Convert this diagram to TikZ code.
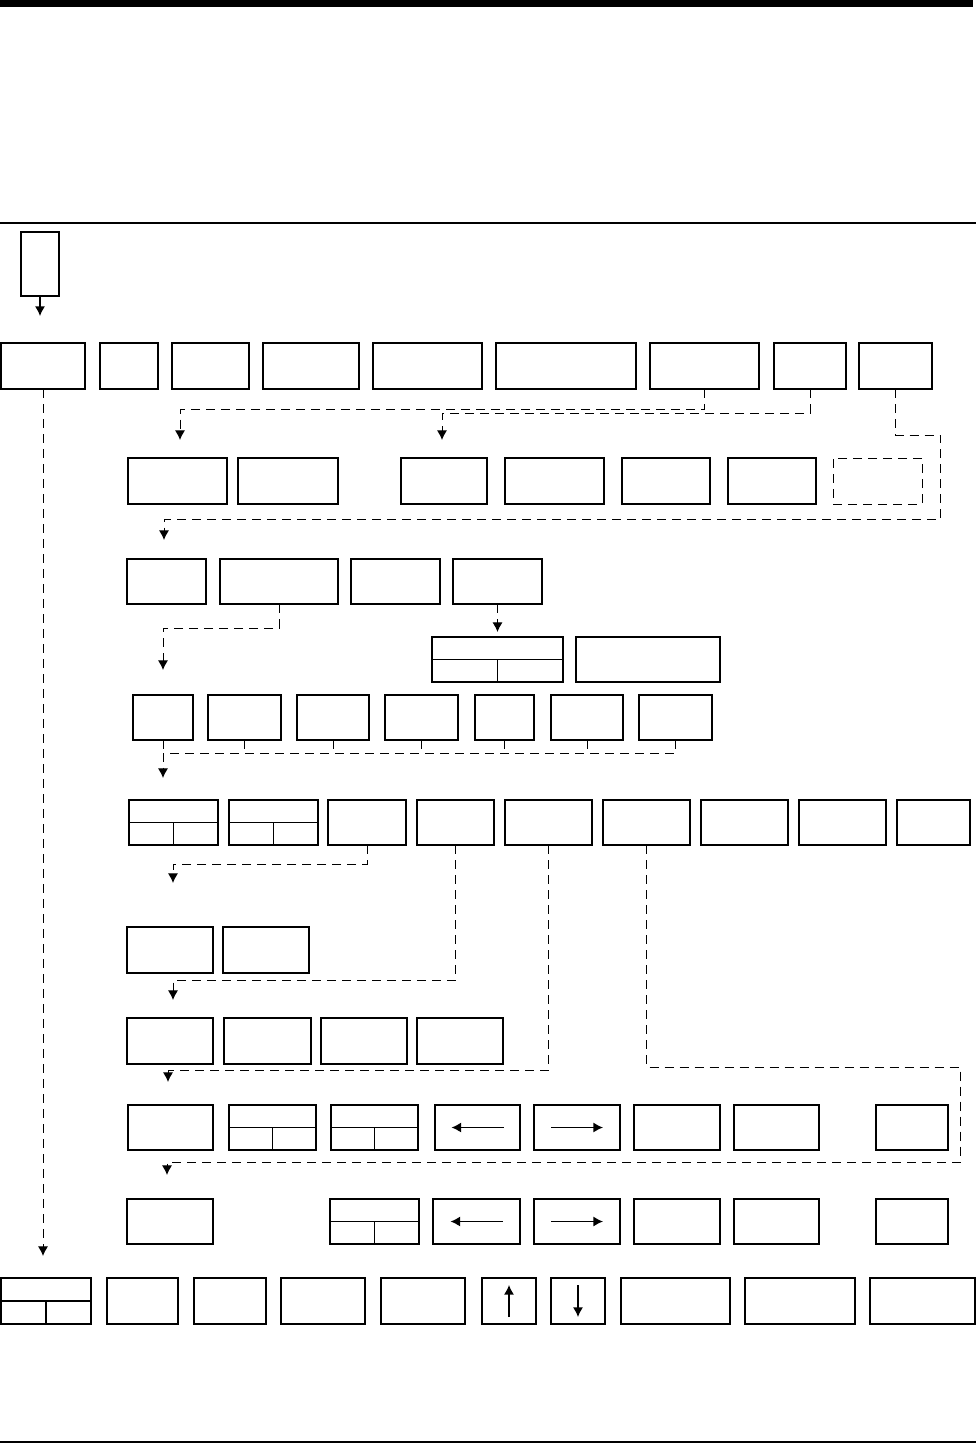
\documentclass[tikz,border=0pt]{standalone}
\usetikzlibrary{arrows.meta}
\usetikzlibrary{calc}

\begin{document}
\begin{tikzpicture}[x=.5pt, y=-.5pt, >={Latex[length=4.8pt,width=5pt]},
  box/.style={draw, rectangle, line width=.65pt, inner sep=0, outer sep=0},
  dashline/.style={line width=.5pt, dash pattern=on 4.5pt off 3pt}]
\def\bx#1#2#3#4#5{\node[box, minimum width={(#4-#2)*.5pt}, minimum height={(#5-#3)*.5pt}] (#1) at ({(#2+#4)/2},{(#3+#5)/2}) {};}
\useasboundingbox (0,0) rectangle (976,1445);
\fill[black] (0,0) rectangle (973,7.5);
\draw[line width=1pt] (0,223) -- (976,223);
\draw[line width=1.2pt] (0,1442) -- (976,1442);
\bx{start}{21}{232}{59}{296}
\foreach \n/\a/\b in {r1a/1/85, r1b/100/158, r1c/172/249, r1d/263/359, r1e/373/482, r1f/496/636, r1g/650/759, r1h/774/846, r1i/859/932}
 {\bx{\n}{\a}{343}{\b}{389}}
\foreach \n/\a/\b in {r2a/128/227, r2b/238/338, r2c/401/487, r2d/505/604, r2e/622/710, r2f/728/816}
 {\bx{\n}{\a}{458}{\b}{504}}
\node[box, dashline, minimum width=44.5pt, minimum height=23pt] (r2g) at (877.5,481) {};
\foreach \n/\a/\b in {r3a/127/206, r3b/220/338, r3c/351/440, r3d/453/542}
 {\bx{\n}{\a}{559}{\b}{604}}
\bx{sp3}{432}{637}{563}{682}
\bx{r3e}{576}{637}{720}{682}
\foreach \n/\a/\b in {r4a/133/193, r4b/208/281, r4c/297/369, r4d/385/458, r4e/475/534, r4f/551/623, r4g/639/712}
 {\bx{\n}{\a}{695}{\b}{740}}
\foreach \n/\a/\b in {s5a/129/218, s5b/229/318, r5c/328/406, r5d/417/494, r5e/505/592, r5f/603/690, r5g/701/788, r5h/799/886, r5i/897/970}
 {\bx{\n}{\a}{800}{\b}{845}}
\foreach \n/\a/\b in {r6a/127/213, r6b/223/309}
 {\bx{\n}{\a}{927}{\b}{973}}
\foreach \n/\a/\b in {r7a/127/213, r7b/224/311, r7c/321/407, r7d/417/503}
 {\bx{\n}{\a}{1018}{\b}{1064}}
\foreach \n/\a/\b in {r8a/128/213, s8b/229/316, s8c/331/418, r8d/435/520, r8e/534/620, r8f/634/720, r8g/734/819, r8h/876/948}
 {\bx{\n}{\a}{1105}{\b}{1150}}
\foreach \n/\a/\b in {r9a/127/213, s9b/330/419, r9c/433/520, r9d/534/620, r9e/634/720, r9f/734/819, r9g/876/948}
 {\bx{\n}{\a}{1199}{\b}{1244}}
\foreach \n/\a/\b in {s10a/1/91, r10b/107/178, r10c/194/266, r10d/281/365, r10e/381/465, r10f/482/536, r10g/551/605, r10h/621/730, r10i/745/855, r10j/870/975}
 {\bx{\n}{\a}{1278}{\b}{1324}}
% split boxes
\foreach \n in {sp3, s5a, s5b, s8b, s8c, s9b, s10a} {
 \draw[line width=.65pt] (\n.west) -- (\n.east);
 \draw[line width=.65pt] (\n.center) -- (\n.south);
}
% arrows inside boxes
\foreach \n in {r8d, r9c}
 \draw[->, line width=.65pt] ([xshift=13pt]\n.center) -- ([xshift=-13pt]\n.center);
\foreach \n in {r8e, r9d}
 \draw[->, line width=.65pt] ([xshift=-13pt]\n.center) -- ([xshift=13pt]\n.center);
\draw[->, line width=.65pt] ([yshift=-8pt]r10f.center) -- ([yshift=8pt]r10f.center);
\draw[->, line width=.65pt] ([yshift=8pt]r10g.center) -- ([yshift=-8pt]r10g.center);
% arrow ends
\coordinate (t1a) at (40,316);
\coordinate (t2a) at (180,440);
\coordinate (t2c) at (442,440);
\coordinate (t3a) at (164,540);
\coordinate (t4a) at (163,670);
\coordinate (j4) at (163,753);
\coordinate (t5a) at (163,778);
\coordinate (t6a) at (173,883);
\coordinate (t7a) at (173,1000);
\coordinate (t8a) at (168,1082);
\coordinate (t9a) at (167,1175);
\coordinate (t10a) at (43,1256);
% connectors
\draw[->, line width=.65pt] (start.south) -- (t1a);
\draw[dashline, ->] (r1g.south) -- ++(0,20) -| (t2a);
\draw[dashline, ->] (r1h.south) -- ++(0,24) -| (t2c);
\draw[dashline, ->] (r1i.south) -- ++(0,46) -| ++(45,84) -| (t3a);
\draw[dashline, ->] (r3b.south) -- ++(0,24) -| (t4a);
\draw[dashline, ->, shorten >=2.5pt] (r3d.south) -- (sp3.north);
\draw[dashline, ->] (r4g.south) |- (j4) -- (t5a);
\foreach \n in {r4a, r4b, r4c, r4d, r4e, r4f}
 \draw[dashline] (\n.south) -- (\n.south |- j4);
\draw[dashline, ->] (r5c.south) -- ++(0,19) -| (t6a);
\draw[dashline, ->] (r5d.south) -- ++(0,135) -| (t7a);
\draw[dashline, ->] (r5e.south) -- ++(0,225) -| (t8a);
\draw[dashline, ->] (r5f.south) -- ++(0,222) -| ++(313.5,95) -| (t9a);
\draw[dashline, ->] (r1a.south) -- (t10a);
\end{tikzpicture}
\end{document}
